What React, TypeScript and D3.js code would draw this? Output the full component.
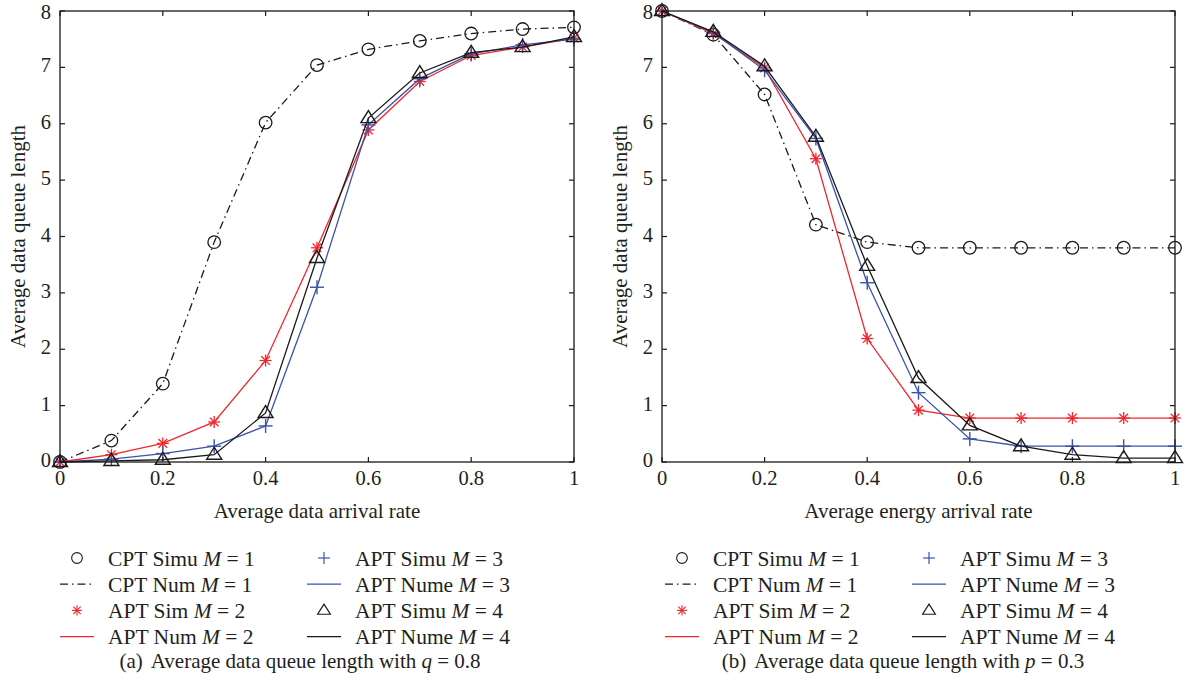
import React from "react";
import * as d3 from "d3";

const xVals = [0, 0.1, 0.2, 0.3, 0.4, 0.5, 0.6, 0.7, 0.8, 0.9, 1.0];
const xTicks = [0, 0.2, 0.4, 0.6, 0.8, 1];
const yTicks = [0, 1, 2, 3, 4, 5, 6, 7, 8];

// Panel (a): q = 0.8, x = average data arrival rate
const aCPT = [0, 0.38, 1.39, 3.9, 6.02, 7.04, 7.32, 7.47, 7.6, 7.68, 7.71];
const aAPT2 = [0, 0.13, 0.33, 0.71, 1.8, 3.8, 5.89, 6.75, 7.21, 7.36, 7.52];
const aAPT3 = [0, 0.05, 0.15, 0.28, 0.64, 3.1, 5.98, 6.8, 7.24, 7.4, 7.5];
const aAPT4 = [0, 0.02, 0.04, 0.13, 0.87, 3.62, 6.1, 6.9, 7.26, 7.36, 7.54];

// Panel (b): p = 0.3, x = average energy arrival rate
const bCPT = [8, 7.58, 6.52, 4.21, 3.9, 3.8, 3.8, 3.8, 3.8, 3.8, 3.8];
const bAPT2 = [8, 7.6, 6.99, 5.38, 2.19, 0.92, 0.78, 0.78, 0.78, 0.78, 0.78];
const bAPT3 = [8, 7.62, 6.95, 5.74, 3.18, 1.23, 0.41, 0.28, 0.28, 0.28, 0.28];
const bAPT4 = [8, 7.63, 7.02, 5.77, 3.48, 1.49, 0.65, 0.28, 0.13, 0.07, 0.07];

const legendCol1 = ["CPT Simu", "CPT Num", "APT Sim", "APT Num"];
const legendCol1M = ["1", "1", "2", "2"];
const legendCol2 = ["APT Simu", "APT Nume", "APT Simu", "APT Nume"];
const legendCol2M = ["3", "3", "4", "4"];

const RED = "#f0262c";
const BLUE = "#3a52a8";
const BLACK = "#1a1a1a";
const TEXT = "#231f20";
const FONT = "'Liberation Serif', 'Times New Roman', serif";
const DASHDOT = "8,4,1.5,4";

type MarkerKind = "circle" | "star" | "plus" | "triangle";

function Marker({ kind, x, y, color }: { kind: MarkerKind; x: number; y: number; color: string }) {
  if (kind === "circle") {
    return <circle cx={x} cy={y} r={6.3} fill="none" stroke={color} strokeWidth={1.3} />;
  }
  if (kind === "plus") {
    const s = 7;
    return (
      <g stroke={color} strokeWidth={1.4}>
        <line x1={x - s} y1={y} x2={x + s} y2={y} />
        <line x1={x} y1={y - s} x2={x} y2={y + s} />
      </g>
    );
  }
  if (kind === "star") {
    const s = 6;
    const d = s * 0.72;
    return (
      <g stroke={color} strokeWidth={1.3}>
        <line x1={x - s} y1={y} x2={x + s} y2={y} />
        <line x1={x} y1={y - s} x2={x} y2={y + s} />
        <line x1={x - d} y1={y - d} x2={x + d} y2={y + d} />
        <line x1={x - d} y1={y + d} x2={x + d} y2={y - d} />
      </g>
    );
  }
  const w = 7.5;
  const h = 12;
  return (
    <path
      d={`M${x},${y - h * 0.62} L${x + w},${y + h * 0.38} L${x - w},${y + h * 0.38} Z`}
      fill="none"
      stroke={color}
      strokeWidth={1.4}
    />
  );
}

type Series = { vals: number[]; color: string; dash?: string; marker: MarkerKind };

function Panel({
  left,
  right,
  top,
  bottom,
  series,
  xTitle,
}: {
  left: number;
  right: number;
  top: number;
  bottom: number;
  series: Series[];
  xTitle: string;
}) {
  const x = d3.scaleLinear().domain([0, 1]).range([left, right]);
  const y = d3.scaleLinear().domain([0, 8]).range([bottom, top]);
  const line = d3
    .line<number>()
    .x((_, i) => x(xVals[i]))
    .y((v) => y(v));
  const tl = 5;
  return (
    <g>
      {series.map((s, k) => (
        <g key={k}>
          <path d={line(s.vals) || ""} fill="none" stroke={s.color} strokeWidth={1.3} strokeDasharray={s.dash} />
          {s.vals.map((v, i) => (
            <Marker key={i} kind={s.marker} x={x(xVals[i])} y={y(v)} color={s.color} />
          ))}
        </g>
      ))}
      <rect x={left} y={top} width={right - left} height={bottom - top} fill="none" stroke={BLACK} strokeWidth={1.3} />
      {xTicks.map((t) => (
        <g key={"x" + t}>
          <line x1={x(t)} x2={x(t)} y1={bottom} y2={bottom - tl} stroke={BLACK} strokeWidth={1.2} />
          <line x1={x(t)} x2={x(t)} y1={top} y2={top + tl} stroke={BLACK} strokeWidth={1.2} />
          <text x={x(t)} y={bottom + 23} textAnchor="middle" fontSize={20.5} fill={TEXT} fontFamily={FONT}>
            {String(t)}
          </text>
        </g>
      ))}
      {yTicks.map((t) => (
        <g key={"y" + t}>
          <line x1={left} x2={left + tl} y1={y(t)} y2={y(t)} stroke={BLACK} strokeWidth={1.2} />
          <line x1={right} x2={right - tl} y1={y(t)} y2={y(t)} stroke={BLACK} strokeWidth={1.2} />
          <text x={left - 9} y={Math.max(y(t) + 5, 19)} textAnchor="end" fontSize={20.5} fill={TEXT} fontFamily={FONT}>
            {String(t)}
          </text>
        </g>
      ))}
      <text x={(left + right) / 2} y={bottom + 56} textAnchor="middle" fontSize={21} fill={TEXT} fontFamily={FONT}>
        {xTitle}
      </text>
      <text
        transform={`translate(${left - 35},${(top + bottom) / 2}) rotate(-90)`}
        textAnchor="middle"
        fontSize={21}
        fill={TEXT}
        fontFamily={FONT}
      >
        Average data queue length
      </text>
    </g>
  );
}

function Legend({ x0, y0 }: { x0: number; y0: number }) {
  const rowH = 26.2;
  const col2 = 247;
  const textOff = 31;
  const col1Samples: { kind: "marker" | "line"; marker?: MarkerKind; color: string; dash?: string }[] = [
    { kind: "marker", marker: "circle", color: BLACK },
    { kind: "line", color: BLACK, dash: DASHDOT },
    { kind: "marker", marker: "star", color: RED },
    { kind: "line", color: RED },
  ];
  const col2Samples: { kind: "marker" | "line"; marker?: MarkerKind; color: string; dash?: string }[] = [
    { kind: "marker", marker: "plus", color: BLUE },
    { kind: "line", color: BLUE },
    { kind: "marker", marker: "triangle", color: BLACK },
    { kind: "line", color: BLACK },
  ];
  const renderCol = (
    cx: number,
    samples: typeof col1Samples,
    labels: string[],
    ms: string[]
  ) =>
    samples.map((s, i) => {
      const yy = y0 + i * rowH;
      return (
        <g key={i}>
          {s.kind === "marker" ? (
            <g transform={`translate(${cx},${yy}) scale(0.85)`}>
              <Marker kind={s.marker!} x={0} y={0} color={s.color} />
            </g>
          ) : (
            <line x1={cx - 17} x2={cx + 17} y1={yy} y2={yy} stroke={s.color} strokeWidth={1.3} strokeDasharray={s.dash} />
          )}
          <text x={cx + textOff} y={yy + 7.5} fontSize={21.5} fill={TEXT} fontFamily={FONT}>
            {labels[i] + " "}
            <tspan fontStyle="italic">M</tspan>
            {" = " + ms[i]}
          </text>
        </g>
      );
    });
  return (
    <g>
      {renderCol(x0, col1Samples, legendCol1, legendCol1M)}
      {renderCol(x0 + col2, col2Samples, legendCol2, legendCol2M)}
    </g>
  );
}

export default function App() {
  const seriesA: Series[] = [
    { vals: aCPT, color: BLACK, dash: DASHDOT, marker: "circle" },
    { vals: aAPT2, color: RED, marker: "star" },
    { vals: aAPT3, color: BLUE, marker: "plus" },
    { vals: aAPT4, color: BLACK, marker: "triangle" },
  ];
  const seriesB: Series[] = [
    { vals: bCPT, color: BLACK, dash: DASHDOT, marker: "circle" },
    { vals: bAPT2, color: RED, marker: "star" },
    { vals: bAPT3, color: BLUE, marker: "plus" },
    { vals: bAPT4, color: BLACK, marker: "triangle" },
  ];
  return (
    <svg
      width={1189}
      height={688}
      style={{ position: "absolute", left: 0, top: 0, background: "#fff" }}
      fontFamily={FONT}
    >
      <rect width={1189} height={688} fill="#fff" />
      <Panel left={60} right={574} top={11} bottom={462} series={seriesA} xTitle="Average data arrival rate" />
      <Panel left={662} right={1175} top={11} bottom={462} series={seriesB} xTitle="Average energy arrival rate" />
      <Legend x0={77} y0={558} />
      <Legend x0={682} y0={558} />
      <text x={300} y={668} textAnchor="middle" fontSize={21} fill={TEXT} fontFamily={FONT}>
        (a)<tspan dx={8}>Average data queue length with </tspan>
        <tspan fontStyle="italic">q</tspan> = 0.8
      </text>
      <text x={903} y={668} textAnchor="middle" fontSize={21} fill={TEXT} fontFamily={FONT}>
        (b)<tspan dx={8}>Average data queue length with </tspan>
        <tspan fontStyle="italic">p</tspan> = 0.3
      </text>
    </svg>
  );
}
